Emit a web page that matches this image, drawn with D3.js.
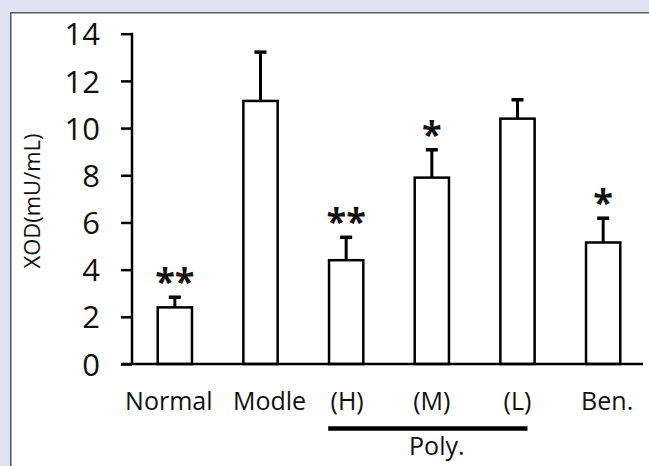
<!DOCTYPE html>
<html>
<head>
<meta charset="utf-8">
<script src="https://cdn.jsdelivr.net/npm/d3@7"></script>
<style>
  html, body { margin: 0; background: #dfe3f1; overflow: hidden; }
  svg { display: block; font-family: "Open Sans", sans-serif; }
</style>
</head>
<body>
<div id="chart"></div>
<script>
var categories = ["Normal", "Modle", "(H)", "(M)", "(L)", "Ben."];
var means = [2.4, 11.15, 4.4, 7.9, 10.4, 5.15];
var errors = [0.43, 2.07, 0.97, 1.18, 0.8, 1.03];
var stars = ["**", "", "**", "*", "", "*"];
var yTicks = [0, 2, 4, 6, 8, 10, 12, 14];
var groupLabel = "Poly.";
var groupMembers = ["(H)", "(M)", "(L)"];
var yTitle = "XOD(mU/mL)";

// small label nudges to follow the original layout
var labelNudge = { "Normal": -6, "Modle": 9, "(H)": 1, "Ben.": 4 };

var width = 649, height = 466;
var svg = d3.select("#chart").append("svg")
    .attr("width", width).attr("height", height);

// panel (white area, border only on the left and top)
svg.append("rect")
    .attr("x", 10).attr("y", 12)
    .attr("width", width - 10).attr("height", height - 12)
    .attr("fill", "#fff");
svg.append("path")
    .attr("d", "M10.75," + height + "V12.75H" + width)
    .attr("fill", "none").attr("stroke", "#5a5a5a").attr("stroke-width", 1.5);

var x0 = 132, x1 = 646, yTop = 33.7, yBase = 364;

var xScale = d3.scaleBand()
    .domain(categories)
    .range([x0, x1])
    .paddingInner(0.6)
    .paddingOuter(0.3);

var yScale = d3.scaleLinear()
    .domain([0, 14])
    .range([yBase, yTop]);

// y axis
var yAxis = d3.axisLeft(yScale).tickValues(yTicks).tickSize(11).tickPadding(21);
var gy = svg.append("g").attr("transform", "translate(" + x0 + ",0)").call(yAxis);
gy.attr("font-size", null).attr("font-family", null);
gy.select(".domain").remove();
gy.selectAll(".tick line").attr("stroke", "#000").attr("stroke-width", 2.5);
gy.selectAll(".tick text")
    .style("font-size", "31px").style("fill", "#111")
    .attr("dy", "0.36em");
svg.append("line")
    .attr("x1", x0).attr("x2", x0)
    .attr("y1", yScale(14) - 1).attr("y2", yBase)
    .attr("stroke", "#000").attr("stroke-width", 2.5);

// bars
var g = svg.append("g");
g.selectAll(".bar").data(means).enter().append("rect")
    .attr("class", "bar")
    .attr("x", function(d, i) { return xScale(categories[i]); })
    .attr("y", function(d) { return yScale(d); })
    .attr("width", xScale.bandwidth())
    .attr("height", function(d) { return yBase - yScale(d); })
    .attr("fill", "#fff").attr("stroke", "#000").attr("stroke-width", 2.5);

// error bars
var capW = 12;
g.selectAll(".err").data(means).enter().append("line")
    .attr("x1", function(d, i) { return xScale(categories[i]) + xScale.bandwidth() / 2; })
    .attr("x2", function(d, i) { return xScale(categories[i]) + xScale.bandwidth() / 2; })
    .attr("y1", function(d) { return yScale(d); })
    .attr("y2", function(d, i) { return yScale(d + errors[i]); })
    .attr("stroke", "#000").attr("stroke-width", 3);
g.selectAll(".cap").data(means).enter().append("line")
    .attr("x1", function(d, i) { return xScale(categories[i]) + xScale.bandwidth() / 2 - capW / 2; })
    .attr("x2", function(d, i) { return xScale(categories[i]) + xScale.bandwidth() / 2 + capW / 2; })
    .attr("y1", function(d, i) { return yScale(d + errors[i]); })
    .attr("y2", function(d, i) { return yScale(d + errors[i]); })
    .attr("stroke", "#000").attr("stroke-width", 3.5);

// significance stars
g.selectAll(".star").data(means).enter().append("text")
    .attr("x", function(d, i) { return xScale(categories[i]) + xScale.bandwidth() / 2; })
    .attr("y", function(d, i) { return yScale(d + errors[i]) - 3; })
    .attr("text-anchor", "middle")
    .style("font-size", "36px").style("font-weight", "bold").style("fill", "#111")
    .text(function(d, i) { return stars[i]; });

// baseline
svg.append("line")
    .attr("x1", 121).attr("x2", 643)
    .attr("y1", yBase).attr("y2", yBase)
    .attr("stroke", "#000").attr("stroke-width", 2.5);

// category labels
svg.selectAll(".cat").data(categories).enter().append("text")
    .attr("x", function(d) { return xScale(d) + xScale.bandwidth() / 2 + (labelNudge[d] || 0); })
    .attr("y", 410)
    .attr("text-anchor", "middle")
    .style("font-size", "25px").style("fill", "#111")
    .text(function(d) { return d; });

// group bracket
var gx1 = xScale(groupMembers[0]) + xScale.bandwidth() / 2 - 18;
var gx2 = xScale(groupMembers[groupMembers.length - 1]) + xScale.bandwidth() / 2 + 10;
svg.append("line")
    .attr("x1", gx1).attr("x2", gx2)
    .attr("y1", 428.5).attr("y2", 428.5)
    .attr("stroke", "#000").attr("stroke-width", 4.5);
svg.append("text")
    .attr("x", xScale(groupMembers[1]) + xScale.bandwidth() / 2 + 5)
    .attr("y", 455)
    .attr("text-anchor", "middle")
    .style("font-size", "25px").style("fill", "#111")
    .text(groupLabel);

// y title
svg.append("text")
    .attr("transform", "translate(40," + 201 + ") rotate(-90)")
    .attr("text-anchor", "middle")
    .style("font-size", "22px").style("fill", "#111")
    .text(yTitle);
</script>
</body>
</html>
